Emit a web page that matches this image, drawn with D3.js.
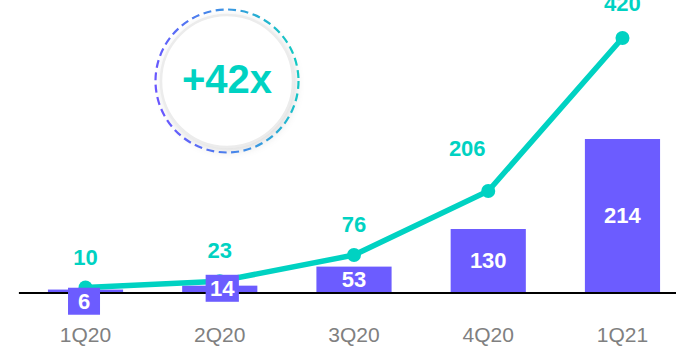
<!DOCTYPE html>
<html>
<head>
<meta charset="utf-8">
<script src="https://cdn.jsdelivr.net/npm/d3@7"></script>
<style>
  html, body { margin: 0; padding: 0; background: #fff; }
  svg { display: block; }
  text { font-family: "Liberation Sans", Arial, Helvetica, sans-serif; }
</style>
</head>
<body>
<svg id="chart" width="676" height="348"></svg>
<script>
// Quarterly figures
const quarters = ["1Q20", "2Q20", "3Q20", "4Q20", "1Q21"];
const barValues = [6, 14, 53, 130, 214];
const lineValues = [10, 23, 76, 206, 420];
const badgeText = "+42x";

const PURPLE = "#6c5cff";
const TEAL = "#00d2c2";

const svg = d3.select("#chart");
const baseY = 292.5;

// Horizontal band scale shared by bars, points and axis
const x = d3.scaleBand()
  .domain(quarters)
  .range([18.4, 689.6])
  .paddingInner(0.44)
  .paddingOuter(0.22);
const cx = q => x(q) + x.bandwidth() / 2;

// Separate (hidden) value axes for the bars and the line
const yBar = d3.scaleLinear().domain([0, 130, 214]).range([baseY, 229, 139]);
const yLine = d3.scaleLinear().domain([0, 206, 420]).range([baseY, 191, 38]);

const defs = svg.append("defs");

// ---- Badge ------------------------------------------------------------
const grad = defs.append("linearGradient")
  .attr("id", "ringGrad")
  .attr("x1", "0%").attr("y1", "60%").attr("x2", "100%").attr("y2", "40%");
grad.append("stop").attr("offset", "0%").attr("stop-color", "#6a55ff");
grad.append("stop").attr("offset", "55%").attr("stop-color", "#3f8fe6");
grad.append("stop").attr("offset", "100%").attr("stop-color", "#13c9c2");

const shadow = defs.append("filter").attr("id", "soft")
  .attr("x", "-40%").attr("y", "-40%").attr("width", "180%").attr("height", "180%");
shadow.append("feDropShadow")
  .attr("dx", 2).attr("dy", 3).attr("stdDeviation", 5)
  .attr("flood-color", "#000").attr("flood-opacity", 0.16);

const badge = svg.append("g").attr("transform", "translate(227,81)");
badge.append("circle").attr("r", 66).attr("fill", "#fff").attr("filter", "url(#soft)");
badge.append("circle").attr("r", 66).attr("fill", "none")
  .attr("stroke", "#ececec").attr("stroke-width", 2.5);
badge.append("circle").attr("r", 71.5).attr("fill", "none")
  .attr("stroke", "url(#ringGrad)").attr("stroke-width", 2.2)
  .attr("stroke-dasharray", "8 4.5");
badge.append("text")
  .attr("text-anchor", "middle").attr("y", 12)
  .attr("font-size", 40).attr("font-weight", "bold").attr("fill", TEAL)
  .text(badgeText);

// ---- Bars -------------------------------------------------------------
const bars = quarters.map((q, i) => ({ q, v: barValues[i] }));
svg.append("g").selectAll("rect")
  .data(bars).join("rect")
  .attr("x", d => x(d.q))
  .attr("width", x.bandwidth())
  .attr("y", d => yBar(d.v))
  .attr("height", d => yBar(0) - yBar(d.v))
  .attr("fill", PURPLE);

// ---- Axis -------------------------------------------------------------
const axis = svg.append("g")
  .attr("transform", `translate(0,${baseY})`)
  .call(d3.axisBottom(x).tickSize(0).tickPadding(35));
axis.select(".domain").attr("stroke", "#000").attr("stroke-width", 2);
axis.selectAll(".tick text")
  .attr("font-family", "Liberation Sans, Arial, sans-serif")
  .attr("font-size", 21).attr("fill", "#808080");

// ---- Line -------------------------------------------------------------
const pts = quarters.map((q, i) => ({ q, v: lineValues[i] }));
svg.append("path")
  .datum(pts)
  .attr("fill", "none").attr("stroke", TEAL)
  .attr("stroke-width", 5.5).attr("stroke-linejoin", "round")
  .attr("d", d3.line().x(d => cx(d.q)).y(d => yLine(d.v)));
svg.append("g").selectAll("circle")
  .data(pts).join("circle")
  .attr("cx", d => cx(d.q)).attr("cy", d => yLine(d.v))
  .attr("r", 7).attr("fill", TEAL);

// Line value labels (above each point, a few nudged clear of the line)
const lineNudge = { "4Q20": [-21, -12], "1Q21": [0, -4] };
svg.append("g").selectAll("text")
  .data(pts).join("text")
  .attr("text-anchor", "middle")
  .attr("x", d => cx(d.q) + (lineNudge[d.q] || [0, 0])[0])
  .attr("y", d => yLine(d.v) - 23 + (lineNudge[d.q] || [0, 0])[1])
  .attr("font-size", 22).attr("font-weight", "bold").attr("fill", TEAL)
  .text(d => d.v);

// Bar value labels: inside tall bars, on a purple tag for short ones
const barNudge = { "1Q20": [-1.5, 10], "2Q20": [2.5, -1] };
const labels = svg.append("g");
bars.forEach(d => {
  const n = barNudge[d.q] || [0, 0];
  const tx = cx(d.q) + n[0];
  const ty = (yBar(d.v) + yBar(0)) / 2 + 7.7 + n[1];
  const g = labels.append("g");
  const t = g.append("text")
    .attr("text-anchor", "middle")
    .attr("x", tx).attr("y", ty)
    .attr("font-size", 22).attr("font-weight", "bold").attr("fill", "#fff")
    .text(d.v);
  if (yBar(0) - yBar(d.v) < 20) {
    const bb = t.node().getBBox();
    const w = Math.max(bb.width + 8, 32);
    g.insert("rect", "text")
      .attr("x", tx - w / 2).attr("y", ty - 21)
      .attr("width", w).attr("height", 27)
      .attr("fill", PURPLE);
  }
});
</script>
</body>
</html>
